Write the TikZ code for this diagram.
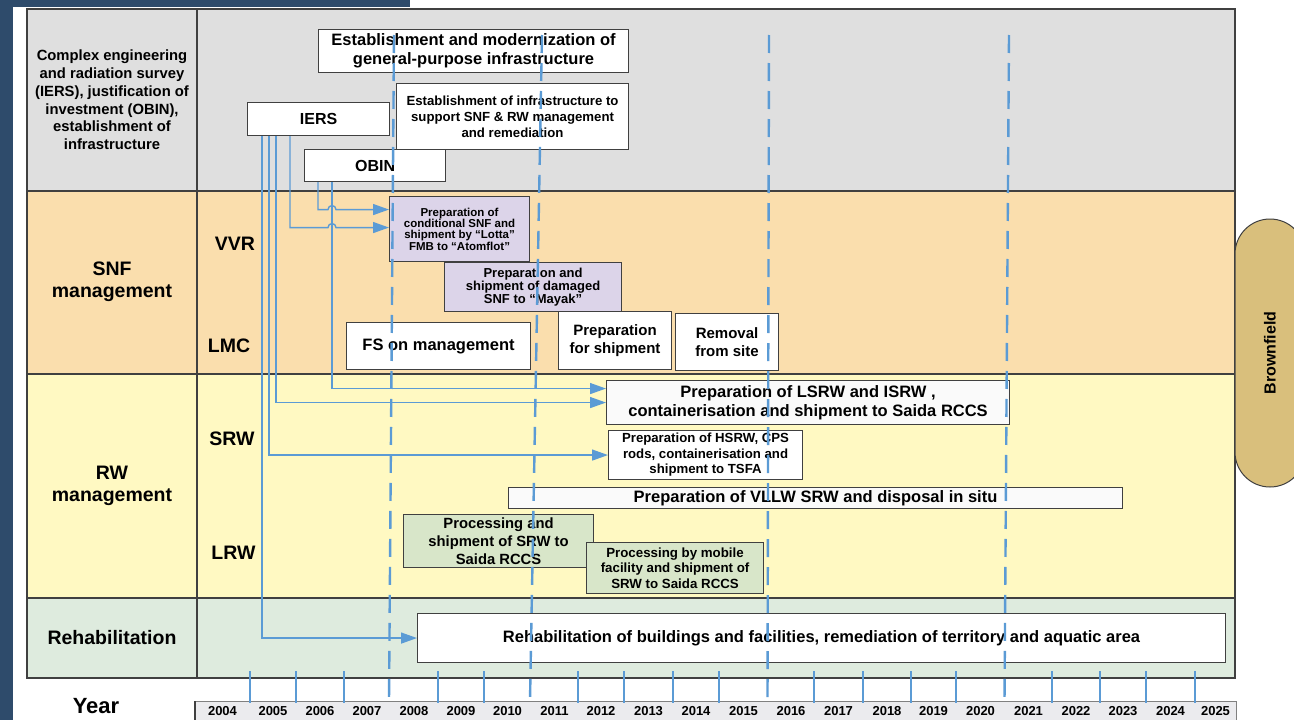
\documentclass[tikz,border=0pt]{standalone}
\usepackage{fontspec}
\setmainfont{Liberation Sans}
\usetikzlibrary{calc,arrows.meta}

\definecolor{navy}{HTML}{2E4B6B}
\definecolor{topgray}{HTML}{DFDFDF}
\definecolor{snfpeach}{HTML}{FADEAD}
\definecolor{rwyellow}{HTML}{FFF9C2}
\definecolor{rehabgreen}{HTML}{DEEBDE}
\definecolor{linkblue}{HTML}{5B9BD5}
\definecolor{framegray}{HTML}{404040}
\definecolor{lilac}{HTML}{DCD4E9}
\definecolor{sage}{HTML}{D8E6C9}
\definecolor{tanfill}{HTML}{D9BF7C}
\definecolor{barfill}{HTML}{EBEBEE}

\newcommand\fsz[2]{\fontsize{#1}{#2}\selectfont}

\tikzset{
  grid line/.style={draw=framegray, line width=1.4pt},
  task/.style={draw=framegray, line width=1.1pt, fill=white, inner sep=0pt,
    align=center, anchor=north west},
  lilacbox/.style={task, fill=lilac},
  sagebox/.style={task, fill=sage},
  flow/.style={draw=linkblue, line width=1.4pt,
    -{Triangle[length=16pt,width=11pt]}},
  yearline/.style={draw=linkblue, line width=2.4pt, dash pattern=on 18pt off 10pt},
  yeartick/.style={draw=linkblue, line width=1.2pt},
  rowlabel/.style={font=\bfseries\fsz{19.5}{22.4}, align=center},
  sublabel/.style={font=\bfseries\fsz{19.5}{22}},
  yearlabel/.style={font=\bfseries\fsz{13}{15}},
}

\begin{document}
\begin{tikzpicture}[x=1pt, y=-1pt]
\useasboundingbox (0,0) rectangle (1294,720);
\clip (0,0) rectangle (1294,720);

% page background and dark frame strips
\fill[white] (0,0) rectangle (1294,720);
\fill[navy] (0,0) rectangle (13,720);
\fill[navy] (0,0) rectangle (410,7);

% table bands
\fill[topgray]    (27,9)   rectangle (1235,191);
\fill[snfpeach]   (27,191) rectangle (1235,374);
\fill[rwyellow]   (27,374) rectangle (1235,598);
\fill[rehabgreen] (27,598) rectangle (1235,678);
\draw[grid line] (27,9) rectangle (1235,678);
\draw[grid line] (197,9) -- (197,678);
\draw[grid line] (27,191) -- (1235,191);
\draw[grid line] (27,374) -- (1235,374);
\draw[grid line] (27,598) -- (1235,598);

% side tab
\draw[draw=framegray, line width=1pt, fill=tanfill, rounded corners=35pt]
  (1235,219) rectangle (1305,487);
\node[rotate=90, font=\bfseries\fsz{16}{18}] (brown) at (1270,353) {Brownfield};

% year scale
\draw[draw=gray, line width=1pt, fill=barfill] (195,701) rectangle (1236,724);
\draw[draw=framegray, line width=1.6pt] (195,701) -- (195,720);
\foreach \t in {250,296,344,438,484,578,624,673,719,814,863,911,956,1052,1100,1146,1195}
  \draw[yeartick] (\t,671) -- (\t,703);
\foreach \c/\yr in {222.5/2004,273/2005,320/2006,367/2007,414/2008,461/2009,
    507.5/2010,554.5/2011,601/2012,648.5/2013,696/2014,743.5/2015,791/2016,
    838.5/2017,887/2018,933.5/2019,980.5/2020,1028.5/2021,1076/2022,
    1123/2023,1170.5/2024,1215.5/2025}
  \node[yearlabel] (y\yr) at (\c,711.5) {\yr};

% row and sub-row labels
\node[font=\bfseries\fsz{14.8}{17.8}, align=center] (lblinfra) at (112,100)
  {Complex engineering\\and radiation survey\\(IERS), justification of\\investment (OBIN),\\establishment of\\infrastructure};
\node[rowlabel] (lblsnf) at (112,282) {SNF\\management};
\node[rowlabel] (lblrw) at (112,486) {RW\\management};
\node[rowlabel] (lblrehab) at (112,638) {Rehabilitation};
\node[font=\bfseries\fsz{22}{24}] (lblyear) at (96,706) {Year};
\node[sublabel] (lblvvr) at (235,243.5) {VVR};
\node[sublabel] (lbllmc) at (229,346) {LMC};
\node[sublabel] (lblsrw) at (232,439) {SRW};
\node[sublabel] (lbllrw) at (233.5,552.5) {LRW};

% activity boxes
\node[task, minimum width=310pt, minimum height=43pt, font=\bfseries\fsz{16.5}{19}]
  (estab) at (318,29) {Establishment and modernization of\\general-purpose infrastructure};
\node[task, minimum width=232pt, minimum height=66pt, font=\bfseries\fsz{13.2}{16}]
  (infra) at (396,83) {Establishment of infrastructure to\\support SNF \& RW management\\and remediation};
\node[task, minimum width=142pt, minimum height=33pt, font=\bfseries\fsz{16}{18}]
  (iers) at (247,102) {IERS};
\node[task, minimum width=141pt, minimum height=32pt, font=\bfseries\fsz{16}{18}]
  (obin) at (304,149) {OBIN};
\node[lilacbox, minimum width=140pt, minimum height=65pt, font=\bfseries\fsz{11.5}{10.7}]
  (vvra) at (389,196) {Preparation of\\conditional SNF and\\shipment by “Lotta”\\FMB to “Atomflot”};
\node[lilacbox, minimum width=177pt, minimum height=49pt, font=\bfseries\fsz{13}{11.3}]
  (vvrb) at (444,262) {Preparation and\\shipment of damaged\\SNF to “Mayak”};
\node[task, minimum width=184pt, minimum height=47pt, font=\bfseries\fsz{16.5}{19}]
  (fsm) at (346,322) {FS on management};
\node[task, minimum width=113pt, minimum height=58pt, font=\bfseries\fsz{15}{17.7}]
  (prepship) at (558,311) {Preparation\\for shipment};
\node[task, minimum width=103pt, minimum height=57pt, font=\bfseries\fsz{15}{17.7}]
  (removal) at (675,313) {Removal\\from site};
\node[task, fill=white!98!black, minimum width=403pt, minimum height=44pt, font=\bfseries\fsz{16.5}{19}]
  (lsrw) at (606,380) {Preparation of LSRW and ISRW ,\\containerisation and shipment to Saida RCCS};
\node[task, minimum width=194pt, minimum height=49pt, font=\bfseries\fsz{13.2}{15.5}]
  (hsrw) at (608,430) {Preparation of HSRW, CPS\\rods, containerisation and\\shipment to TSFA};
\node[task, fill=white!98!black, minimum width=614pt, minimum height=21pt, font=\bfseries\fsz{16.5}{19}]
  (vllw) at (508,487) {Preparation of VLLW SRW and disposal in situ};
\node[sagebox, minimum width=190pt, minimum height=53pt, font=\bfseries\fsz{14.8}{18}]
  (lrwa) at (403,514) {Processing and\\shipment of SRW to\\Saida RCCS};
\node[sagebox, minimum width=177pt, minimum height=51pt, font=\bfseries\fsz{13.3}{15.3}]
  (lrwb) at (586,542) {Processing by mobile\\facility and shipment of\\SRW to Saida RCCS};
\node[task, minimum width=808pt, minimum height=49pt, font=\bfseries\fsz{16.5}{19}]
  (rehab) at (417,613) {Rehabilitation of buildings and facilities, remediation of territory and aquatic area};

% connectors from the survey and investment boxes
\coordinate (oba) at ([xshift=14pt]obin.south west);
\coordinate (obb) at ([xshift=28pt]obin.south west);
\coordinate (iea) at ([xshift=15pt]iers.south west);
\coordinate (ieb) at ([xshift=22pt]iers.south west);
\coordinate (iec) at ([xshift=29pt]iers.south west);
\coordinate (ied) at ([xshift=43pt]iers.south west);
\coordinate (ina) at ([yshift=19.5pt]vvra.west);
\coordinate (inb) at ([yshift=1.5pt]vvra.west);
\coordinate (inc) at ([yshift=14pt]lsrw.west);

\draw[flow] (oba) |- ($(ina -| obb)+(-4,0)$) arc (180:360:4) -- (ina);
\draw[flow] (ied) |- ($(inb -| obb)+(-4,0)$) arc (180:360:4) -- (inb);
\draw[flow] (obb) |- (inc);
\draw[flow] (iec) |- (lsrw.west);
\draw[flow] (ieb) |- (hsrw.west);
\draw[flow] (iea) |- (rehab.west);

% milestone lines
\draw[yearline] (394,35) -- (389,701);
\draw[yearline] (542,35) -- (530,701);
\draw[yearline] (769,35) -- (767.5,701);
\draw[yearline] (1009,35) -- (1004.5,701);
\end{tikzpicture}
\end{document}
